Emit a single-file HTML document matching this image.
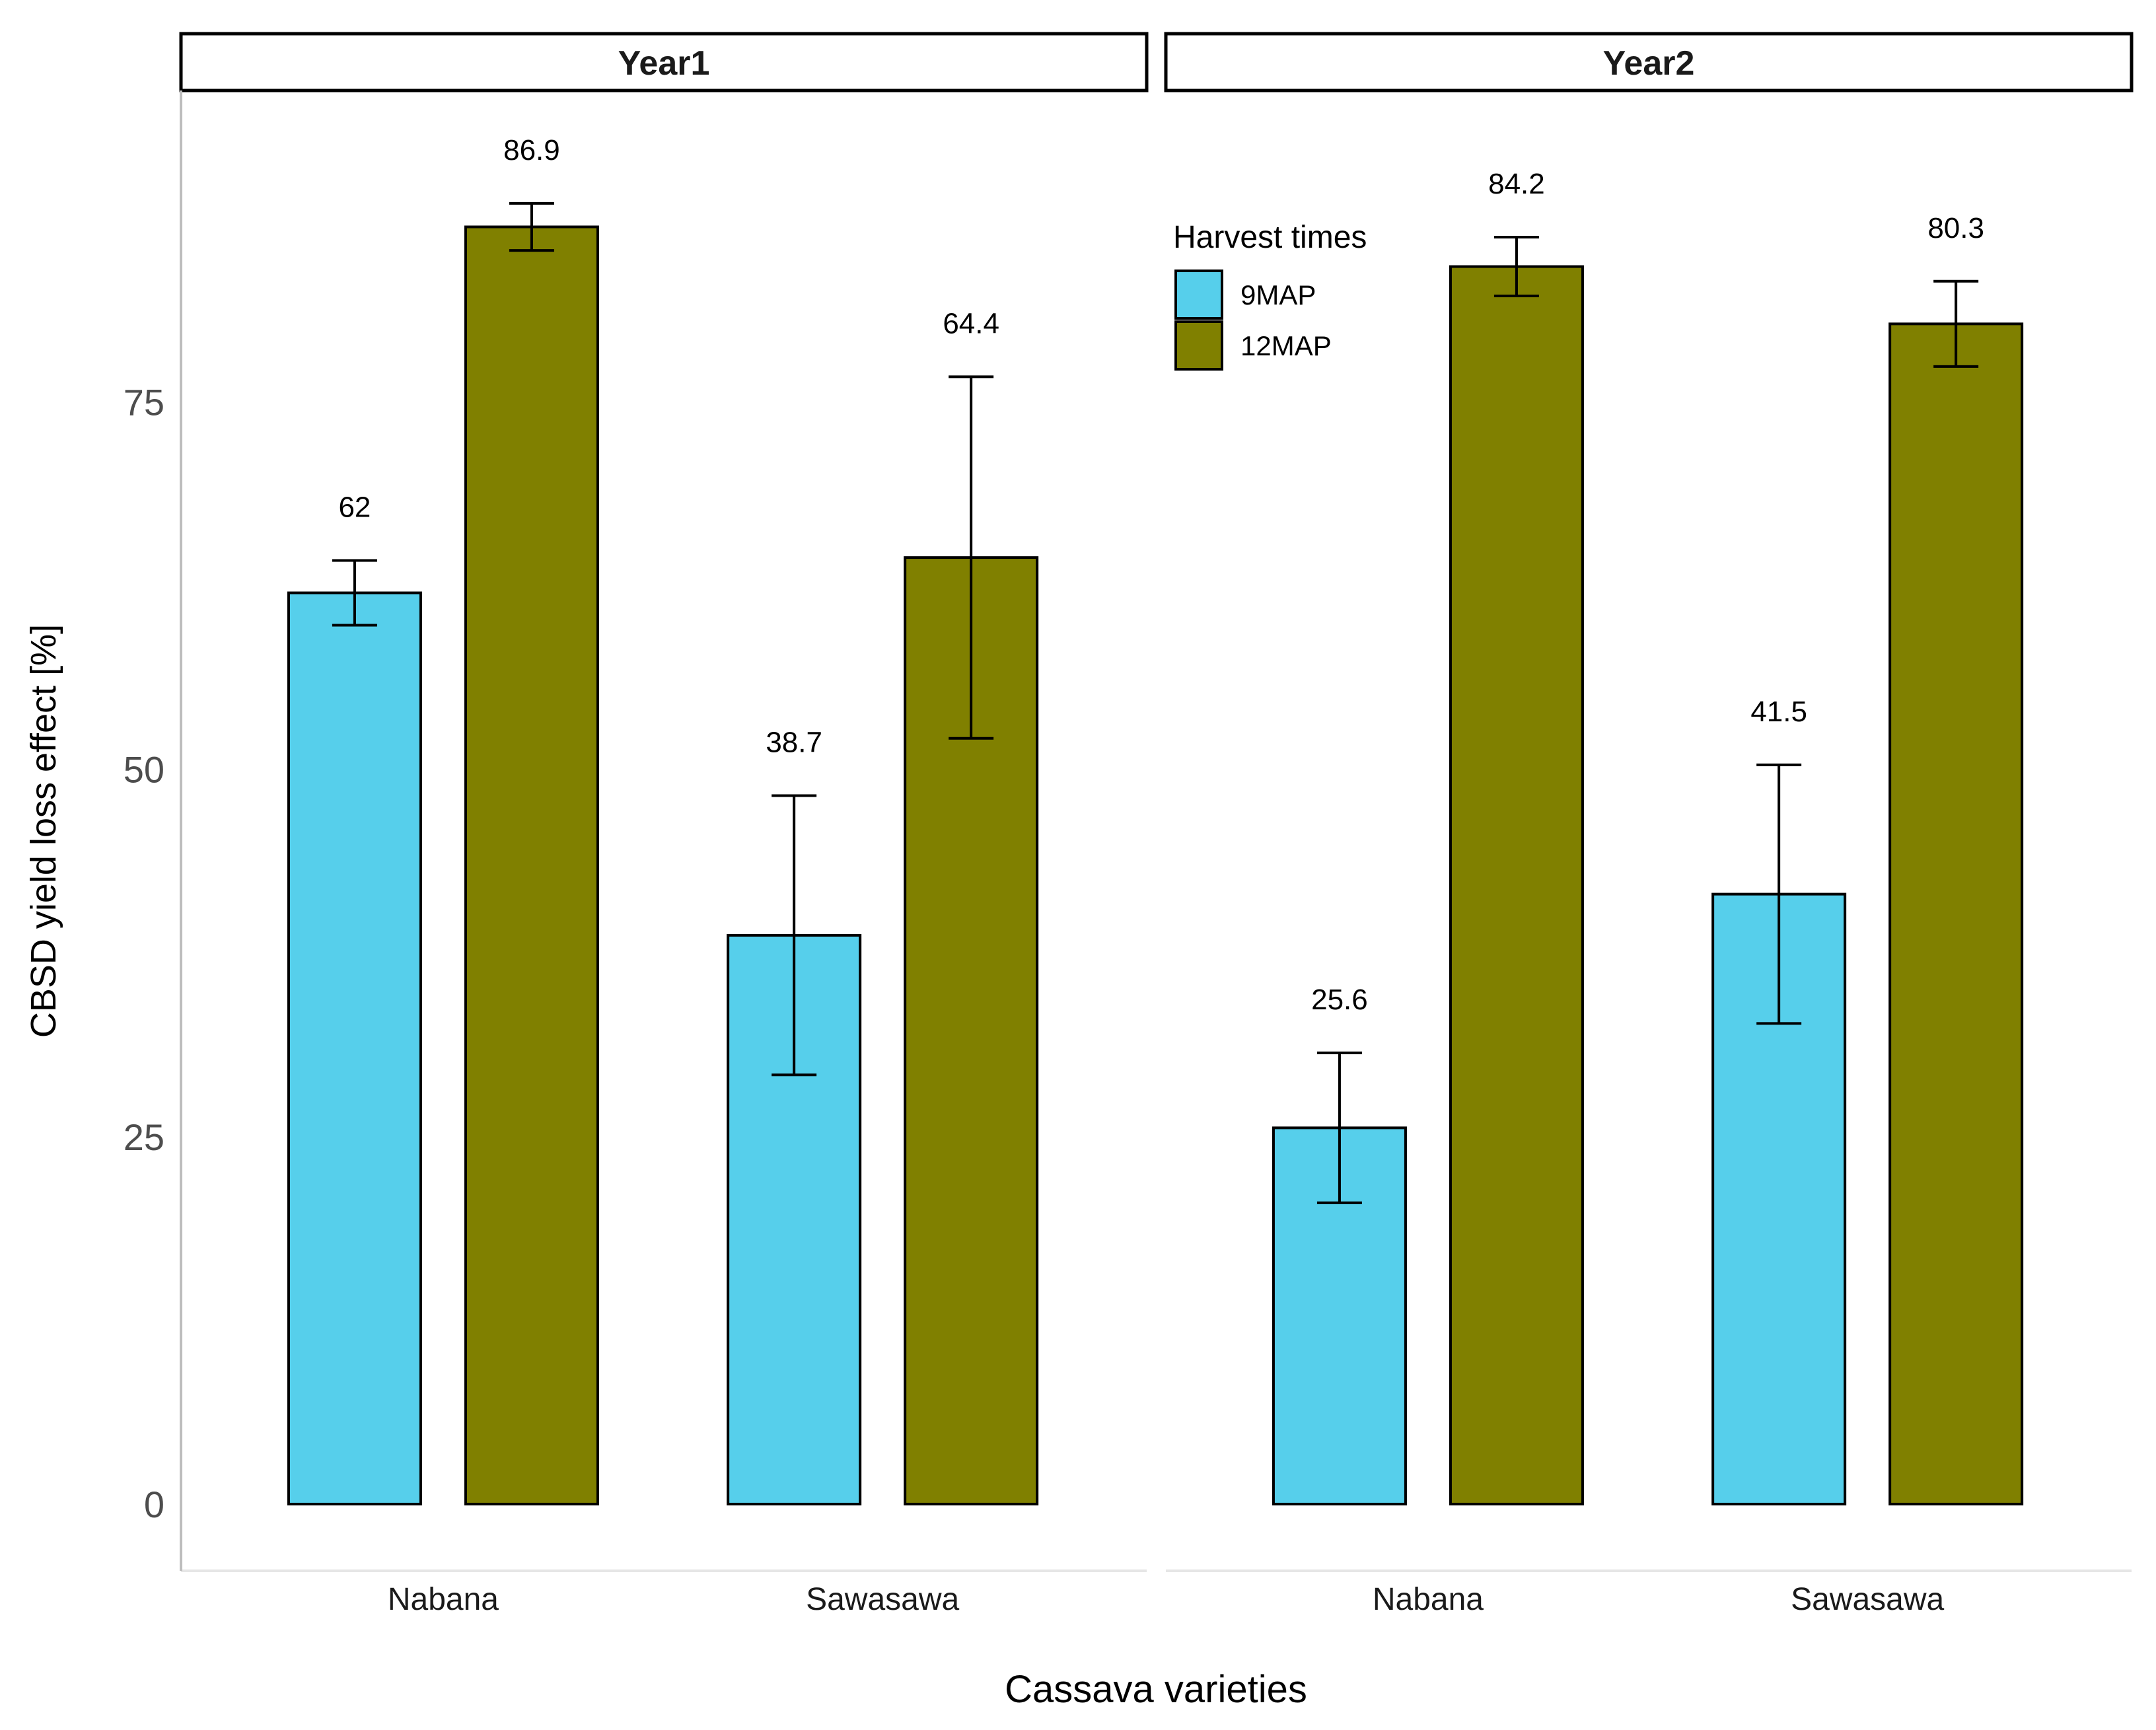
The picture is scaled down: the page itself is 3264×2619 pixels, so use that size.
<!DOCTYPE html>
<html><head><meta charset="utf-8">
<style>
html,body{margin:0;padding:0;background:#fff;}
svg{display:block;}
text{font-family:"Liberation Sans",Arial,sans-serif;}
</style></head>
<body>
<svg id="chart" width="3264" height="2619" viewBox="0 0 3264 2619" xmlns="http://www.w3.org/2000/svg">
<rect x="0" y="0" width="3264" height="2619" fill="#fff"/>
<g id="plot"></g>
</svg>
<script>
const panels = ['Year1', 'Year2'];
const categories = ['Nabana', 'Sawasawa'];
const series = ['9MAP', '12MAP'];
const values9 = [[62, 38.7], [25.6, 41.5]];
const values12 = [[86.9, 64.4], [84.2, 80.3]];
const err9 = [[2.2, 9.5], [5.1, 8.8]];
const err12 = [[1.6, 12.3], [2.0, 2.9]];
const yTicks = [0, 25, 50, 75];
const labels9 = [['62', '38.7'], ['25.6', '41.5']];
const labels12 = [['86.9', '64.4'], ['84.2', '80.3']];

const NS = 'http://www.w3.org/2000/svg';
const g = document.getElementById('plot');
function el(tag, attrs, parent) {
  const e = document.createElementNS(NS, tag);
  for (const k in attrs) e.setAttribute(k, attrs[k]);
  (parent || g).appendChild(e);
  return e;
}
const colors = ['#56CFEB', '#808000'];
const panelX = [274, 1765];
const panelW = 1462;
const stripTop = 51, stripBot = 137, panelBot = 2378;
function yScale(v) { return 2277 - v * 22.25; }
function catX(p, i) { return panelX[p] + panelW * (i === 0 ? 0.2715 : 0.7265); }
const dodge = 134, barW = 200;

panels.forEach((pn, p) => {
  const x0 = panelX[p];
  const strip = el('rect', {x: x0, y: stripTop, width: panelW, height: stripBot - stripTop, fill: '#fff', stroke: '#000', 'stroke-width': 5});
  
  
  const st = el('text', {x: x0 + panelW / 2, y: stripBot - 24, 'text-anchor': 'middle', 'font-size': 52, 'font-weight': 'bold', fill: '#1a1a1a'});
  st.textContent = pn;
  
  
  const bl = el('line', {x1: x0, x2: x0 + panelW, y1: panelBot, y2: panelBot, stroke: '#e6e6e6', 'stroke-width': 4});
  
  
  categories.forEach((c, i) => {
    const cx = catX(p, i);
    const t = el('text', {x: cx, y: 2437, 'text-anchor': 'middle', 'font-size': 48, fill: '#1a1a1a'});
    t.textContent = c;
    
    
    [[values9, err9, labels9], [values12, err12, labels12]].forEach((arr, s) => {
      const v = arr[0][p][i], e = arr[1][p][i], lab = arr[2][p][i];
      const bx = cx + (s === 0 ? -dodge : dodge);
      const r = el('rect', {x: bx - barW / 2, y: yScale(v), width: barW, height: yScale(0) - yScale(v), fill: colors[s], stroke: '#000', 'stroke-width': 4});
      
      
      const eg = el('g', {stroke: '#000', 'stroke-width': 4});
      
      
      el('line', {x1: bx, x2: bx, y1: yScale(v + e), y2: yScale(v - e)}, eg);
      el('line', {x1: bx - 34, x2: bx + 34, y1: yScale(v + e), y2: yScale(v + e)}, eg);
      el('line', {x1: bx - 34, x2: bx + 34, y1: yScale(v - e), y2: yScale(v - e)}, eg);
      const vt = el('text', {x: bx, y: yScale(v + e) - 82 + 16, 'text-anchor': 'middle', 'font-size': 44, fill: '#000'});
      vt.textContent = lab;
      
      
    });
  });
});
const yl = el('line', {x1: 274, x2: 274, y1: stripBot, y2: panelBot, stroke: '#bdbdbd', 'stroke-width': 4});


yTicks.forEach(t => {
  const tt = el('text', {x: 249, y: yScale(t) + 20, 'text-anchor': 'end', 'font-size': 56, fill: '#4d4d4d'});
  tt.textContent = String(t);
  
  
});
const yt = el('text', {x: 0, y: 0, transform: 'translate(84,1258) rotate(-90)', 'text-anchor': 'middle', 'font-size': 54, fill: '#000'});
yt.textContent = 'CBSD yield loss effect [%]';


const xt = el('text', {x: 1750, y: 2577, 'text-anchor': 'middle', 'font-size': 58, fill: '#000'});
xt.textContent = 'Cassava varieties';



const lg = el('g', {});


const lt = el('text', {x: 1776, y: 375, 'font-size': 48, fill: '#000'}, lg);
lt.textContent = 'Harvest times';


series.forEach((s, k) => {
  const ky = 410 + k * 77;
  const kr = el('rect', {x: 1780, y: ky, width: 70, height: 72, fill: colors[k], stroke: '#000', 'stroke-width': 4}, lg);
  
  
  const kt = el('text', {x: 1878, y: ky + 51, 'font-size': 42, fill: '#000'}, lg);
  kt.textContent = s;
  
  
});
</script>
</body></html>
